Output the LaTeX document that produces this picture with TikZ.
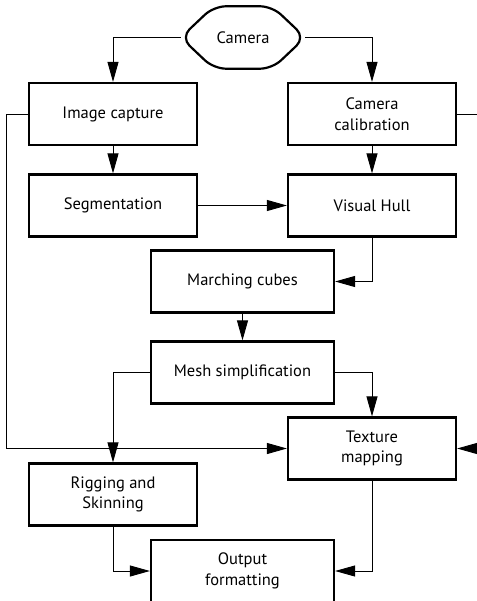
\documentclass[tikz,border=0pt]{standalone}
\usepackage{fontspec}
\setmainfont{PT Sans}
\usetikzlibrary{arrows.meta,calc}

\begin{document}
\begin{tikzpicture}[
  x=1pt, y=-1pt,
  font=\fontsize{16.5}{20.5}\selectfont,
  box/.style={draw, line width=2.2pt, align=center, inner sep=4pt, minimum width=168pt, minimum height=62pt},
  wbox/.style={box, minimum width=183pt},
  arr/.style={-{Triangle[length=20pt,width=11pt]}, line width=0.9pt}
]
\useasboundingbox (0,0) rectangle (476,601);
\node[minimum width=124pt, minimum height=62pt] (cam) at (243,37.5) {Camera};
\draw[line width=2.2pt, rounded corners=12pt]
  (cam.west) -- ($(cam.north west)+(33,0)$) -- ($(cam.north east)+(-33,0)$)
  -- (cam.east) -- ($(cam.south east)+(-33,0)$) -- ($(cam.south west)+(33,0)$) -- cycle;
\node[box] (img) at (113,114) {Image capture};
\node[box] (cal) at (372,114) {Camera\\calibration};
\node[box] (seg) at (113,205.5) {Segmentation};
\node[box] (hull) at (372,205.5) {Visual Hull};
\node[wbox] (march) at (242.5,281.5) {Marching cubes};
\node[wbox] (mesh) at (242.5,372.5) {Mesh simplification};
\node[box] (tex) at (372,448.5) {Texture\\mapping};
\node[box] (rig) at (113,494.5) {Rigging and\\Skinning};
\node[wbox] (out) at (242.5,571) {Output\\formatting};
\draw[arr] (cam.west) -| (img.north);
\draw[arr] (cam.east) -| (cal.north);
\draw[arr] (img) -- (seg);
\draw[arr] (cal) -- (hull);
\draw[arr] (seg) -- (hull);
\draw[arr] (hull.south) |- (march.east);
\draw[arr] (march) -- (mesh);
\draw[arr] (mesh.west) -| (rig.north);
\draw[arr] (mesh.east) -| (tex.north);
\draw[arr] (img.west) -- ++(-21,0) |- (tex.west);
\draw[arr] (cal.east) -- ++(40,0) |- (tex.east);
\draw[arr] (rig.south) |- (out.west);
\draw[arr] (tex.south) |- (out.east);
\end{tikzpicture}
\end{document}
